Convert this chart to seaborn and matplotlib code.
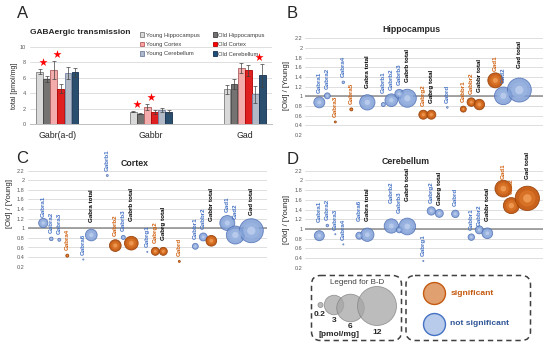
import numpy as np
import pandas as pd
import matplotlib
matplotlib.use("Agg")
import matplotlib.pyplot as plt
from matplotlib.patches import FancyBboxPatch, Patch
import seaborn as sns

# ---------------- data: panel A (total amounts, pmol/mg) ----------------
bar_categories = ["Gabr(a-d)", "Gabbr", "Gad"]
bar_groups = ["Young Hippocampus", "Old Hippocampus", "Young Cortex",
              "Old Cortex", "Young Cerebellum", "Old Cerebellum"]
young_hippocampus = [6.8, 1.6, 4.5]
old_hippocampus = [5.8, 1.35, 5.15]
young_cortex = [7.0, 2.2, 7.25]
old_cortex = [4.6, 1.6, 6.95]
young_cerebellum = [6.6, 1.8, 3.85]
old_cerebellum = [6.7, 1.6, 6.3]
young_hippocampus_sd = [0.3, 0.1, 0.55]
old_hippocampus_sd = [0.4, 0.1, 0.65]
young_cortex_sd = [1.2, 0.4, 0.65]
old_cortex_sd = [0.6, 0.25, 0.75]
young_cerebellum_sd = [0.8, 0.3, 1.1]
old_cerebellum_sd = [0.6, 0.2, 1.5]
star_category = ["Gabr(a-d)", "Gabr(a-d)", "Gabbr", "Gabbr", "Gad"]
star_region = ["Hippocampus", "Cortex", "Hippocampus", "Cortex", "Cerebellum"]

# ---------------- data: panels B-D (ratio old/young, amount pmol/mg) ----------------
slots_full = ["Gabra1", "Gabra2", "Gabra3", "Gabra4", "Gabra5", "Gabra6", "Gabra total", "",
              "Gabrb1", "Gabrb2", "Gabrb3", "Gabrb total", "",
              "Gabrg1", "Gabrg2", "Gabrg total", "", "Gabrd", "",
              "Gabbr1", "Gabbr2", "Gabbr total", "", "Gad1", "Gad2", "", "Gad total"]
slots_hippocampus = [s for s in slots_full if s != "Gabrg1"]

hip_genes = ["Gabra1", "Gabra2", "Gabra3", "Gabra4", "Gabra5", "Gabra total",
             "Gabrb1", "Gabrb2", "Gabrb3", "Gabrb total", "Gabrg2", "Gabrg total",
             "Gabrd", "Gabbr1", "Gabbr2", "Gabbr total", "Gad1", "Gad2", "Gad total"]
hip_ratio = [0.875, 1.01, 0.47, 1.29, 0.73, 0.875, 0.83, 0.92, 1.05, 0.96, 0.62, 0.62,
             0.77, 0.735, 0.88, 0.83, 1.33, 1.01, 1.13]
hip_amount = [0.95, 0.28, 0.03, 0.05, 0.07, 1.85, 0.13, 1.27, 0.64, 2.56, 0.64, 0.64,
              0.02, 0.28, 0.57, 0.87, 1.77, 2.47, 4.54]
hip_significant = [0, 0, 1, 0, 1, 0, 0, 0, 0, 0, 1, 1, 0, 1, 1, 1, 1, 0, 0]

ctx_genes = ["Gabra1", "Gabra2", "Gabra3", "Gabra4", "Gabra6", "Gabra total",
             "Gabrb1", "Gabrb2", "Gabrb3", "Gabrb total", "Gabrg1", "Gabrg2", "Gabrg total",
             "Gabrd", "Gabbr1", "Gabbr2", "Gabbr total", "Gad1", "Gad2", "Gad total"]
ctx_ratio = [1.11, 0.78, 0.76, 0.43, 0.35, 0.86, 2.1, 0.64, 0.81, 0.69, 0.51, 0.52, 0.52,
             0.31, 0.625, 0.82, 0.74, 1.11, 0.86, 0.95]
ctx_amount = [0.68, 0.10, 0.07, 0.07, 0.01, 1.08, 0.03, 1.08, 0.13, 1.48, 0.01, 0.5, 0.5,
              0.03, 0.28, 0.5, 0.9, 1.77, 2.56, 4.54]
ctx_significant = [0, 0, 0, 1, 0, 0, 0, 1, 0, 1, 0, 1, 1, 1, 0, 0, 1, 0, 0, 0]

cb_genes = ["Gabra1", "Gabra2", "Gabra3", "Gabra4", "Gabra6", "Gabra total",
            "Gabrb2", "Gabrb3", "Gabrb total", "Gabrg1", "Gabrg2", "Gabrg total",
            "Gabrd", "Gabbr1", "Gabbr2", "Gabbr total", "Gad1", "Gad2", "Gad total"]
cb_ratio = [0.86, 1.07, 0.89, 0.68, 0.86, 0.88, 1.06, 0.98, 1.05, 0.34, 1.37, 1.32,
            1.31, 0.83, 0.98, 0.91, 1.83, 1.48, 1.63]
cb_amount = [0.79, 0.05, 0.01, 0.01, 0.39, 1.40, 1.61, 0.28, 2.2, 0.01, 0.54, 0.5,
             0.44, 0.33, 0.5, 0.9, 2.2, 2.02, 4.66]
cb_significant = [0] * 16 + [1, 1, 1]

legend_amounts = [0.2, 3, 6, 12]

# ---------------- style / layout ----------------
sns.set_style("white")
plt.rcParams["font.family"] = ["Liberation Sans", "DejaVu Sans"]

W, H = 550, 348
fig = plt.figure(figsize=(5.5, 3.48), dpi=100)


def box(l, t, r, b):
    return [l / W, 1 - b / H, (r - l) / W, (b - t) / H]


def fpt(x, y):
    return (x / W, 1 - y / H)


TICK_COL = "#595959"
BLUE_TXT = "#4472c4"
ORANGE_TXT = "#d0600f"
SMAX = 65.7 * 12  # marker area (pt^2) for 12 pmol/mg

bar_face = ["#d9d9d9", "#767171", "#ff9f9f", "#ff0000", "#adb9ca", "#1f4e79"]
bar_edge = ["#7f7f7f", "#404040", "#b06060", "#b00000", "#7080a0", "#142f4f"]

# ================= Panel A =================
axA = fig.add_axes(box(30, 47, 272, 124))
series = [young_hippocampus, old_hippocampus, young_cortex, old_cortex,
          young_cerebellum, old_cerebellum]
sds = [young_hippocampus_sd, old_hippocampus_sd, young_cortex_sd, old_cortex_sd,
       young_cerebellum_sd, old_cerebellum_sd]
rows = []
for g, vals, errs in zip(bar_groups, series, sds):
    for c, v, e in zip(bar_categories, vals, errs):
        rows.append(dict(category=c, group=g, value=v, sd=e))
dfA = pd.DataFrame(rows)

GW = 0.45
sns.barplot(data=dfA, x="category", y="value", hue="group", order=bar_categories,
            hue_order=bar_groups, palette=bar_face, width=GW, gap=0.08,
            errorbar=None, linewidth=0.6, legend=False, ax=axA, zorder=3)

bw = GW / len(bar_groups)
centers = {}
for p in axA.patches:
    h = p.get_height()
    if not np.isfinite(h):
        continue
    xc = p.get_x() + p.get_width() / 2
    ci = int(round(xc))
    gi = int(round((xc - ci + GW / 2 - bw / 2) / bw))
    p.set_edgecolor(bar_edge[gi])
    centers[(bar_categories[ci], bar_groups[gi])] = xc

ex, ey, ee = [], [], []
for r in dfA.itertuples():
    ex.append(centers[(r.category, r.group)])
    ey.append(r.value)
    ee.append(r.sd)
axA.errorbar(ex, ey, yerr=ee, fmt="none", ecolor="#404040", elinewidth=0.5,
             capsize=1.3, capthick=0.5, zorder=4)

sx, sy = [], []
for c, reg in zip(star_category, star_region):
    yg, og = "Young " + reg, "Old " + reg
    sub = dfA[(dfA.category == c) & dfA.group.isin([yg, og])]
    sx.append((centers[(c, yg)] + centers[(c, og)]) / 2)
    sy.append((sub.value + sub.sd).max() + 0.9)
axA.scatter(sx, sy, marker="*", s=38, color="#ff0000", linewidths=0, zorder=5)

axA.set_xlim(-0.29, 2.29)
axA.set_ylim(0, 10)
axA.set_yticks(range(0, 11, 2))
axA.grid(axis="y", color="#d9d9d9", lw=0.6)
axA.set_axisbelow(True)
for s in ["top", "right", "left"]:
    axA.spines[s].set_visible(False)
axA.spines["bottom"].set_color("#bfbfbf")
axA.spines["bottom"].set_linewidth(0.7)
axA.tick_params(axis="y", length=0, labelsize=4, labelcolor=TICK_COL, pad=3)
axA.tick_params(axis="x", length=0, labelsize=6.3, labelcolor="#262626", pad=5)
axA.set_xlabel("")
axA.set_ylabel("")

handles = [Patch(facecolor=f, edgecolor=e, linewidth=0.6, label=g)
           for f, e, g in zip(bar_face, bar_edge, bar_groups)]
order = [0, 2, 4, 1, 3, 5]
axA.legend([handles[i] for i in order], [bar_groups[i] for i in order], ncol=2,
           loc="upper left", bbox_to_anchor=fpt(140, 32.5), bbox_transform=fig.transFigure,
           frameon=False, fontsize=4.2, labelcolor="#404040", handlelength=0.7,
           handleheight=0.7, handletextpad=0.25, columnspacing=2.3, labelspacing=0.75,
           borderpad=0, borderaxespad=0)

# ================= Panels B-D =================
blue_layers = [(1.0, "#7f9ed6", "#4f70b5", 0.6, 0.85),
               (0.45, "#9db6e3", "none", 0, 0.7),
               (0.12, "#c5d5f0", "none", 0, 0.7)]
orange_layers = [(1.0, "#c55a11", "#9a430a", 0.6, 0.95),
                 (0.45, "#dc7628", "none", 0, 0.8),
                 (0.12, "#f2a05a", "none", 0, 0.8)]


def bubble_panel(ax, genes, ratios, amounts, significant, slots, xlim, nudge, tickpad):
    df = pd.DataFrame({"gene": genes, "slot": [slots.index(g) for g in genes],
                       "ratio": ratios, "amount": amounts, "sig": significant})
    for flag, layers in ((0, blue_layers), (1, orange_layers)):
        sub = df[df.sig == flag]
        for frac, fc, ec, lw, a in layers:
            sns.scatterplot(data=sub, x="slot", y="ratio", size="amount",
                            sizes=(0, SMAX * frac), size_norm=(0, 12), color=fc,
                            edgecolor=ec, linewidth=lw, alpha=a, legend=False,
                            ax=ax, zorder=3)
    for r in df.itertuples():
        r_pt = np.sqrt(SMAX * r.amount / 12) / 2
        total = r.gene.endswith("total")
        gap_px = (7 if total else 4) + nudge.get(r.gene, 0)
        color = "black" if total else (ORANGE_TXT if r.sig else BLUE_TXT)
        ax.annotate(r.gene, (r.slot, r.ratio), xytext=(0, r_pt + gap_px * 0.72),
                    textcoords="offset points", rotation=90, ha="center", va="bottom",
                    fontsize=4.5, fontweight="bold", color=color, annotation_clip=False,
                    zorder=6)
    ticks = np.round(np.arange(0.2, 2.21, 0.2), 1)
    ax.set_ylim(0.2, 2.2)
    ax.set_yticks(ticks)
    ax.set_yticklabels([f"{t:g}" for t in ticks])
    ax.set_xlim(*xlim)
    ax.set_xticks([])
    ax.tick_params(axis="y", length=0, labelsize=4, labelcolor=TICK_COL, pad=tickpad)
    ax.grid(axis="y", color="#d9d9d9", lw=0.6)
    ax.set_axisbelow(True)
    ax.axhline(1, color="#8c8c8c", lw=1.1, zorder=2)
    for s in ax.spines.values():
        s.set_visible(False)
    ax.set_xlabel("")
    ax.set_ylabel("")


axB = fig.add_axes(box(305, 38.3, 543, 135))
bubble_panel(axB, hip_genes, hip_ratio, hip_amount, hip_significant, slots_hippocampus,
             (-1.79, 27.96), {"Gabrb1": 6, "Gad total": 3, "Gad1": -2}, 2)
axC = fig.add_axes(box(28, 170.7, 267, 266.7))
bubble_panel(axC, ctx_genes, ctx_ratio, ctx_amount, ctx_significant, slots_full,
             (-1.91, 27.96), {"Gabrb total": 8, "Gabbr total": 7, "Gad total": -3,
                              "Gabra1": -3, "Gad2": 3}, 2.5)
axD = fig.add_axes(box(305, 170.7, 543, 267.7))
bubble_panel(axD, cb_genes, cb_ratio, cb_amount, cb_significant, slots_full,
             (-1.79, 27.96), {"Gabra1": 5, "Gabra6": 7, "Gabrb2": 12, "Gabrb3": 10,
                              "Gabrb total": 10, "Gabrg total": -3, "Gabbr2": -4,
                              "Gad1": -3}, 2)

# ================= figure texts =================
for letter, (x, y) in zip("ABCD", [(22.5, 14), (292.5, 14), (22.5, 158.5), (292.5, 159.5)]):
    fig.text(*fpt(x, y), letter, fontsize=12, ha="center", va="center")
fig.text(*fpt(30, 33), "GABAergic transmission", fontsize=6, fontweight="bold",
         ha="left", va="center")
fig.text(*fpt(411.7, 29), "Hippocampus", fontsize=6.3, fontweight="bold", ha="center", va="center")
fig.text(*fpt(135, 163), "Cortex", fontsize=6.3, fontweight="bold", ha="center", va="center")
fig.text(*fpt(405.7, 162), "Cerebellum", fontsize=6.3, fontweight="bold", ha="center", va="center")
fig.text(*fpt(14, 85.5), "total [pmol/mg]", fontsize=5, rotation=90, ha="center",
         va="center", color="#262626")
for x, y in [(287, 86), (10, 204), (287, 219)]:
    fig.text(*fpt(x, y), "[Old] / [Young]", fontsize=5.6, rotation=90, ha="center",
             va="center", color="#262626")

# ================= legend boxes for B-D =================
ov = fig.add_axes([0, 0, 1, 1])
ov.set_xlim(0, W)
ov.set_ylim(H, 0)
ov.axis("off")
ov.patch.set_visible(False)
for (x0, y0, x1, y1) in [(311.5, 275.5, 401.5, 340.5), (406, 275.5, 530.5, 340.5)]:
    ov.add_patch(FancyBboxPatch((x0, y0), x1 - x0, y1 - y0,
                                boxstyle="round,pad=0,rounding_size=9", fill=False,
                                ec="#404040", lw=1.1, ls=(0, (3.5, 2.5))))
ov.text(357, 283, "Legend for B-D", fontsize=5.8, color="#404040", ha="center", va="center")
leg_cx = [320.5, 334, 350.5, 377]
leg_cy = [305, 305, 308, 306]
ov.scatter(leg_cx, leg_cy, s=[SMAX * v / 12 for v in legend_amounts], color="#a6a6a6",
           alpha=0.75, edgecolors="#7f7f7f", linewidths=0.6, zorder=3)
for v, (x, y) in zip(legend_amounts, [(320, 315), (334, 320), (350.5, 326), (377, 333)]):
    ov.text(x, y, f"{v:g}", fontsize=6, fontweight="bold", ha="center", va="center")
ov.text(339, 335, "[pmol/mg]", fontsize=6, fontweight="bold", ha="center", va="center")

ov.scatter([434], [293.3], s=250, color="#e0a070", edgecolors="#c55a11", linewidths=1.0)
ov.scatter([434], [323.5], s=250, color="#b8cbea", edgecolors="#4472c4", linewidths=1.0)
ov.text(450.5, 293.3, "significant", fontsize=6.1, fontweight="bold", color="#c55a11",
        ha="left", va="center")
ov.text(450.5, 323.5, "not significant", fontsize=6.1, fontweight="bold", color="#2f5597",
        ha="left", va="center")

fig.savefig("out.png", dpi=100)
